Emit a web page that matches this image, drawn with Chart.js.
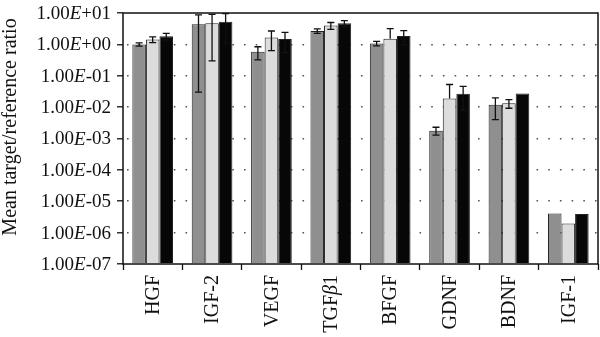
<!DOCTYPE html>
<html>
<head>
<meta charset="utf-8">
<script src="https://cdn.jsdelivr.net/npm/chart.js@4/dist/chart.umd.min.js"></script>
<style>
  html, body { margin: 0; padding: 0; background: #fff; }
  #wrap { width: 600px; height: 337px; }
</style>
</head>
<body>
<div id="wrap"><canvas id="c" width="600" height="337"></canvas></div>
<script>
// Growth factor expression, three groups per factor (mean ± SD)
const categories = ['HGF', 'IGF-2', 'VEGF', 'TGFβ1', 'BFGF', 'GDNF', 'BDNF', 'IGF-1'];
const groupA = [1.0, 4.36, 0.58, 2.67, 1.07, 0.00178, 0.0118, 4.1e-6];
const groupAErr = [0.12, 4.33, 0.26, 0.43, 0.18, 0.0005, 0.0078, 0];
const groupB = [1.43, 4.7, 1.65, 4.0, 1.51, 0.0187, 0.0133, 1.95e-6];
const groupBErr = [0.3, 4.4, 1.02, 0.98, 1.65, 0.034, 0.0041, 0];
const groupC = [1.81, 5.3, 1.49, 4.68, 1.85, 0.0269, 0.027, 3.9e-6];
const groupCErr = [0.44, 4.2, 0.94, 1.0, 0.89, 0.019, 0, 0];
const yTickValues = [1e-7, 1e-6, 1e-5, 1e-4, 1e-3, 1e-2, 1e-1, 1e0, 1e1];
const yTickLabels = ['1.00E-07', '1.00E-06', '1.00E-05', '1.00E-04', '1.00E-03', '1.00E-02', '1.00E-01', '1.00E+00', '1.00E+01'];
const yTitle = 'Mean target/reference ratio';

const FONT = '"Liberation Serif", "DejaVu Serif", serif';
const TEXT = '#111';
const TICK_SIZE = 19;
const LABEL_SIZE = 20;

// Draw text right-aligned at x, with chosen characters in italic
function drawRich(ctx, str, x, y, size, italicRe) {
  const segs = [];
  for (const ch of str) {
    const it = italicRe.test(ch);
    if (segs.length && segs[segs.length - 1].it === it) segs[segs.length - 1].t += ch;
    else segs.push({ t: ch, it });
  }
  let total = 0;
  segs.forEach(s => {
    ctx.font = (s.it ? 'italic ' : '') + size + 'px ' + FONT;
    s.w = ctx.measureText(s.t).width;
    total += s.w;
  });
  let cx = x - total;
  segs.forEach(s => {
    ctx.font = (s.it ? 'italic ' : '') + size + 'px ' + FONT;
    ctx.fillText(s.t, cx, y);
    cx += s.w;
  });
}

const errorSets = [groupAErr, groupBErr, groupCErr];

const customAxes = {
  id: 'customAxes',
  afterDraw(chart) {
    const ctx = chart.ctx;
    const ca = chart.chartArea;
    const ys = chart.scales.y;
    const xs = chart.scales.x;
    ctx.save();
    // plot frame
    ctx.strokeStyle = '#111';
    ctx.lineWidth = 1.5;
    ctx.setLineDash([]);
    ctx.strokeRect(ca.left, ca.top, ca.right - ca.left, ca.bottom - ca.top);
    ctx.fillStyle = TEXT;
    ctx.textAlign = 'left';
    // y tick labels
    ctx.textBaseline = 'middle';
    yTickValues.forEach((v, i) => {
      drawRich(ctx, yTickLabels[i], ca.left - 12, ys.getPixelForValue(v) + 1, TICK_SIZE, /E/);
    });
    // x category labels, rotated
    categories.forEach((c, i) => {
      const px = xs.getPixelForValue(i);
      ctx.save();
      ctx.translate(px + 1, ca.bottom + 11);
      ctx.rotate(-Math.PI / 2);
      ctx.textBaseline = 'middle';
      drawRich(ctx, c, 0, 0, LABEL_SIZE, /[\u03b1-\u03c9]/);
      ctx.restore();
    });
    // y axis title
    ctx.save();
    ctx.translate(11, 127);
    ctx.rotate(-Math.PI / 2);
    ctx.textAlign = 'center';
    ctx.textBaseline = 'middle';
    ctx.font = LABEL_SIZE + 'px ' + FONT;
    ctx.fillText(yTitle, 0, 0);
    ctx.restore();
    ctx.restore();
  },
  afterDatasetsDraw(chart) {
    const ctx = chart.ctx;
    const ys = chart.scales.y;
    ctx.save();
    ctx.strokeStyle = '#111';
    ctx.lineWidth = 1.3;
    ctx.setLineDash([]);
    const cap = 3.5;
    chart.data.datasets.forEach((ds, di) => {
      const meta = chart.getDatasetMeta(di);
      meta.data.forEach((bar, i) => {
        const m = ds.data[i];
        const s = errorSets[di][i];
        if (!s) return;
        const yTop = ys.getPixelForValue(m + s);
        const hasLow = m - s > 0;
        const yBot = hasLow ? ys.getPixelForValue(m - s) : bar.y;
        ctx.beginPath();
        ctx.moveTo(bar.x, yBot);
        ctx.lineTo(bar.x, yTop);
        ctx.moveTo(bar.x - cap, yTop);
        ctx.lineTo(bar.x + cap, yTop);
        if (hasLow) {
          ctx.moveTo(bar.x - cap, yBot);
          ctx.lineTo(bar.x + cap, yBot);
        }
        ctx.stroke();
      });
    });
    ctx.restore();
  }
};

const barStyle = { borderColor: '#222', borderWidth: 1, categoryPercentage: 0.685, barPercentage: 1.0, base: 1e-7 };

new Chart(document.getElementById('c'), {
  type: 'bar',
  data: {
    labels: categories,
    datasets: [
      Object.assign({ label: 'A', data: groupA, backgroundColor: '#8f8f8f' }, barStyle),
      Object.assign({ label: 'B', data: groupB, backgroundColor: '#dcdcdc' }, barStyle),
      Object.assign({ label: 'C', data: groupC, backgroundColor: '#070707' }, barStyle)
    ]
  },
  options: {
    responsive: false,
    animation: false,
    devicePixelRatio: 1,
    layout: { padding: { top: 13, right: 2, left: 0, bottom: 0 } },
    plugins: { legend: { display: false }, tooltip: { enabled: false } },
    scales: {
      x: {
        type: 'category',
        offset: true,
        grid: { offset: true, drawOnChartArea: false, drawTicks: true, tickLength: 6, tickColor: '#111', tickWidth: 1.3 },
        border: { display: false },
        ticks: { display: false },
        afterFit(scale) { scale.height = 73; }
      },
      y: {
        type: 'logarithmic',
        min: 1e-7,
        max: 10,
        afterBuildTicks(scale) { scale.ticks = yTickValues.map(v => ({ value: v })); },
        grid: {
          drawOnChartArea: true,
          drawTicks: true,
          tickLength: 6,
          tickColor: '#111',
          tickWidth: 1.3,
          tickBorderDash: [],
          color: ctx => (ctx.tick && (ctx.tick.value === 1e-7 || ctx.tick.value === 10)) ? 'rgba(0,0,0,0)' : '#555',
          lineWidth: 1.6
        },
        border: { display: false, dash: [1.6, 10.1], dashOffset: -4 },
        ticks: { display: false },
        title: { display: false },
        afterFit(scale) { scale.width = 123; }
      }
    }
  },
  plugins: [customAxes]
});
</script>
</body>
</html>
